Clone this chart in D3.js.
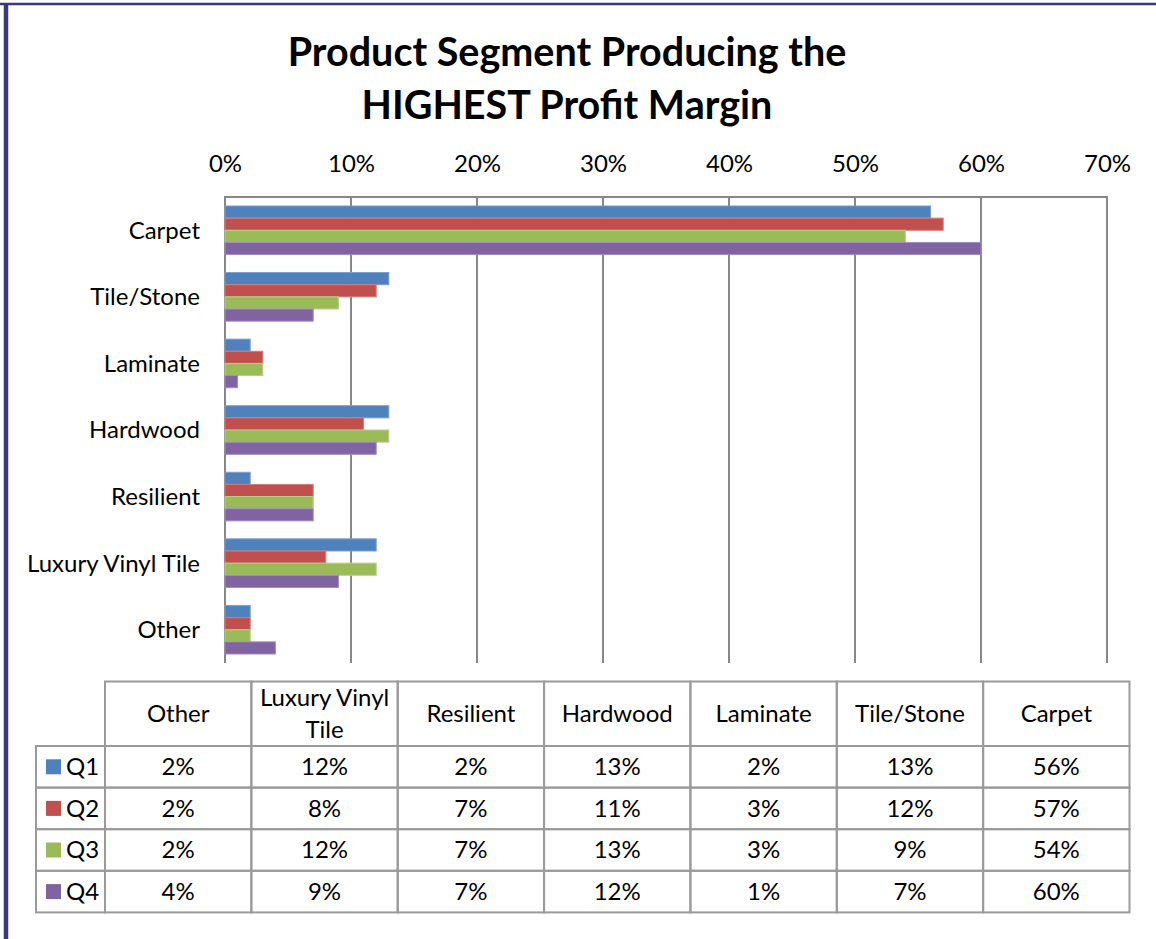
<!DOCTYPE html>
<html>
<head>
<meta charset="utf-8">
<script src="https://cdn.jsdelivr.net/npm/d3@7"></script>
<style>
  html, body { margin: 0; padding: 0; background: #fff; }
  svg { display: block; font-family: Lato, "Open Sans", sans-serif; }
</style>
</head>
<body>
<svg id="chart" width="1156" height="939"></svg>
<script>
// Segments in table order (bottom of chart to top)
const categories = ["Other", "Luxury Vinyl Tile", "Resilient", "Hardwood", "Laminate", "Tile/Stone", "Carpet"];
const seriesNames = ["Q1", "Q2", "Q3", "Q4"];
const q1 = [0.02, 0.12, 0.02, 0.13, 0.02, 0.13, 0.56];
const q2 = [0.02, 0.08, 0.07, 0.11, 0.03, 0.12, 0.57];
const q3 = [0.02, 0.12, 0.07, 0.13, 0.03, 0.09, 0.54];
const q4 = [0.04, 0.09, 0.07, 0.12, 0.01, 0.07, 0.60];
const tickValues = [0, 0.1, 0.2, 0.3, 0.4, 0.5, 0.6, 0.7];
const colors = ["#4f81bd", "#c0504d", "#9bbb59", "#8064a2"];
const strokes = ["#7a9fd0", "#d47d7a", "#b7d08a", "#a08cbf"];

const seriesValues = [q1, q2, q3, q4];
const svg = d3.select("#chart");
const pct = d3.format(".0%");
const fs = 24;

// Frame
svg.append("line").attr("x1", 0).attr("x2", 1156).attr("y1", 4).attr("y2", 4)
  .attr("stroke", "#393979").attr("stroke-width", 2.5);
svg.append("line").attr("x1", 6).attr("x2", 6).attr("y1", 3).attr("y2", 939)
  .attr("stroke", "#393979").attr("stroke-width", 4.5);

// Title
const title = svg.append("text").attr("text-anchor", "middle")
  .attr("font-weight", "bold").attr("font-size", 39.5).attr("fill", "#000");
title.append("tspan").attr("x", 567).attr("y", 66).text("Product Segment Producing the");
title.append("tspan").attr("x", 567).attr("y", 119).text("HIGHEST Profit Margin");

// Scales
const plotTop = 197, plotBottom = 663;
const x = d3.scaleLinear().domain([0, 0.7]).range([225, 1107]);
const y = d3.scaleBand().domain(categories.slice().reverse()).range([plotTop, plotBottom]).paddingInner(0.27).paddingOuter(0.135);
const ySub = d3.scaleBand().domain(seriesNames).range([0, y.bandwidth()]);

// Grid lines and top border
const grid = svg.append("g").attr("stroke", "#878787").attr("stroke-width", 2);
grid.selectAll("line.v").data(tickValues).join("line").attr("class", "v")
  .attr("x1", d => x(d)).attr("x2", d => x(d))
  .attr("y1", plotTop).attr("y2", plotBottom);
grid.append("line").attr("x1", x(0) - 1).attr("x2", x(0.7) + 1)
  .attr("y1", plotTop).attr("y2", plotTop);

// Top axis labels
const axis = svg.append("g").attr("transform", `translate(0,${plotTop - 25})`)
  .call(d3.axisTop(x).tickValues(tickValues).tickFormat(pct).tickSize(0).tickPadding(0));
axis.select(".domain").remove();
axis.selectAll("text").attr("font-size", fs).attr("fill", "#000")
  .attr("font-family", "Lato, 'Open Sans', sans-serif");

// Bars
seriesValues.forEach((vals, si) => {
  svg.append("g").selectAll("rect").data(categories).join("rect")
    .attr("x", x(0))
    .attr("y", (c) => y(c) + ySub(seriesNames[si]))
    .attr("width", (c, i) => x(vals[i]) - x(0))
    .attr("height", ySub.bandwidth())
    .attr("fill", colors[si])
    .attr("stroke", strokes[si]).attr("stroke-width", 1);
});

// Category labels
svg.append("g").selectAll("text").data(categories).join("text")
  .attr("x", 200).attr("y", c => y(c) + y.bandwidth() / 2)
  .attr("dy", "0.35em").attr("text-anchor", "end")
  .attr("font-size", fs).attr("fill", "#000").text(c => c);

// Data table
const tLeft = 36, tCol0 = 105, tRight = 1129.5;
const colW = (tRight - tCol0) / categories.length;
const hTop = 681.5, hBottom = 746, rowH = 41.6;
const tb = svg.append("g");
const lineColor = "#9a9a9a";
const cell = (x1, y1, w, h) => tb.append("rect").attr("x", x1).attr("y", y1)
  .attr("width", w).attr("height", h).attr("fill", "none")
  .attr("stroke", lineColor).attr("stroke-width", 2);

categories.forEach((c, i) => {
  const cx = tCol0 + i * colW;
  cell(cx, hTop, colW, hBottom - hTop);
  seriesNames.forEach((s, si) => cell(cx, hBottom + si * rowH, colW, rowH));
  const words = c === "Luxury Vinyl Tile" ? ["Luxury Vinyl", "Tile"] : [c];
  const t = tb.append("text").attr("text-anchor", "middle").attr("font-size", fs).attr("fill", "#000");
  const mid = (hTop + hBottom) / 2;
  words.forEach((w, wi) => {
    t.append("tspan").attr("x", cx + colW / 2)
      .attr("y", mid + (wi - (words.length - 1) / 2) * 32)
      .attr("dy", "0.35em").text(w);
  });
});

seriesNames.forEach((s, si) => {
  const ry = hBottom + si * rowH;
  cell(tLeft, ry, tCol0 - tLeft, rowH);
  tb.append("rect").attr("x", 46).attr("y", ry + rowH / 2 - 7.5)
    .attr("width", 15).attr("height", 15).attr("fill", colors[si]);
  tb.append("text").attr("x", 66).attr("y", ry + rowH / 2).attr("dy", "0.35em")
    .attr("font-size", fs).attr("fill", "#000").text(s);
  seriesValues[si].forEach((v, i) => {
    tb.append("text").attr("x", tCol0 + i * colW + colW / 2).attr("y", ry + rowH / 2)
      .attr("dy", "0.35em").attr("text-anchor", "middle")
      .attr("font-size", fs).attr("fill", "#000").text(pct(v));
  });
});
</script>
</body>
</html>
